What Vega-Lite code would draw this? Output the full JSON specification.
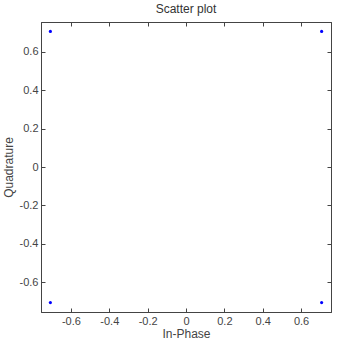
{
  "$schema": "https://vega.github.io/schema/vega-lite/v6.json",
  "autosize": "none",
  "width": 290,
  "height": 290,
  "padding": {"left": 41, "top": 22, "right": 6, "bottom": 33},
  "background": "white",
  "title": {"text": "Scatter plot", "font": "Liberation Sans", "fontSize": 12, "fontWeight": "normal", "color": "#333333", "offset": 6},
  "config": {
    "view": {"stroke": "#444444", "strokeWidth": 1},
    "axis": {"domainColor": "#444444", "tickColor": "#444444", "labelColor": "#444444", "titleColor": "#444444", "labelFont": "Liberation Sans", "titleFont": "Liberation Sans", "labelFontSize": 11, "titleFontSize": 12, "titleFontWeight": "normal", "grid": false, "tickSize": -4, "labelPadding": 7,
      "labelExpr": "datum.value == 0 ? '0' : (datum.value < 0 ? '-' + format(-datum.value, '.1f') : format(datum.value, '.1f'))"}
  },
  "data": {"values": [
    {"i": 0.7071, "q": 0.7071},
    {"i": -0.7071, "q": 0.7071},
    {"i": -0.7071, "q": -0.7071},
    {"i": 0.7071, "q": -0.7071}
  ]},
  "layer": [
    {
      "mark": {"type": "point", "filled": true, "color": "#0000ff", "size": 10, "opacity": 1},
      "encoding": {
        "x": {"field": "i", "type": "quantitative", "scale": {"domain": [-0.756, 0.756], "nice": false, "zero": false}, "axis": {"orient": "bottom", "title": "In-Phase", "values": [-0.6, -0.4, -0.2, 0, 0.2, 0.4, 0.6], "titlePadding": 2}},
        "y": {"field": "q", "type": "quantitative", "scale": {"domain": [-0.756, 0.756], "nice": false, "zero": false}, "axis": {"orient": "left", "title": "Quadrature", "values": [-0.6, -0.4, -0.2, 0, 0.2, 0.4, 0.6], "titlePadding": 4}}
      }
    },
    {
      "mark": {"type": "point", "opacity": 0},
      "encoding": {
        "x": {"field": "i", "type": "quantitative", "scale": {"domain": [-0.756, 0.756], "nice": false, "zero": false}, "axis": {"orient": "top", "title": null, "labels": false, "values": [-0.6, -0.4, -0.2, 0, 0.2, 0.4, 0.6]}},
        "y": {"field": "q", "type": "quantitative", "scale": {"domain": [-0.756, 0.756], "nice": false, "zero": false}, "axis": {"orient": "right", "title": null, "labels": false, "values": [-0.6, -0.4, -0.2, 0, 0.2, 0.4, 0.6]}}
      }
    }
  ],
  "resolve": {"axis": {"x": "independent", "y": "independent"}}
}
